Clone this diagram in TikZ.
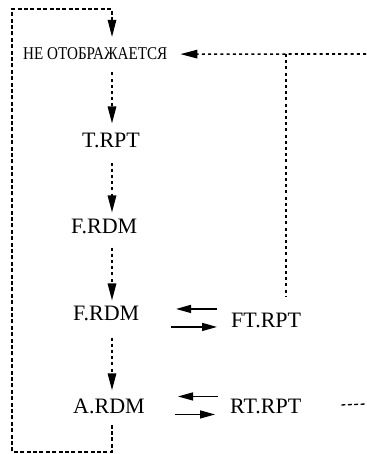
\documentclass[tikz,border=0pt]{standalone}
\usepackage{fontspec}
\setmainfont{Liberation Serif}
\usetikzlibrary{arrows.meta,calc}
\begin{document}
\begin{tikzpicture}[x=1pt,y=-1pt,
  lbl/.style={inner sep=0pt,font=\fontsize{22}{24}\selectfont,anchor=base west},
  loopdash/.style={line width=1.3pt,dash pattern=on 4pt off 2.4pt},
  dotln/.style={line width=1.6pt,dash pattern=on 3pt off 3.2pt},
  vhead/.style={-{Triangle[length=17pt,width=8.5pt]}},
  harrow/.style={line width=1.4pt,-{Triangle[length=15pt,width=8pt]}}]
\useasboundingbox (0,0) rectangle (366,454);
% nodes
\node[lbl,font=\fontsize{18}{20}\selectfont] (ne) at (23,60) {\resizebox{144pt}{\height}{НЕ ОТОБРАЖАЕТСЯ}};
\node[lbl] (trpt) at (82,148) {T.RPT};
\node[lbl] (frdma) at (71,233) {F.RDM};
\node[lbl] (frdmb) at (73,320) {F.RDM};
\node[lbl] (ardm) at (73,413) {A.RDM};
\node[lbl] (ftrpt) at (231,327) {FT.RPT};
\node[lbl] (rtrpt) at (230,413) {RT.RPT};
% helper coordinates
\coordinate (col) at (112,0);
\coordinate (bl) at (12,452);
\coordinate (tl) at (12,9);
\coordinate (rin) at (366,54);
\coordinate (junc) at (286,54);
\coordinate (rtout) at (366,404);
% vertical chain
\draw[dotln,vhead,shorten <=12pt,shorten >=10pt] (ne.south -| col) -- (trpt.north -| col);
\draw[dotln,vhead,shorten <=14pt,shorten >=6pt] (trpt.south -| col) -- (frdma.north -| col);
\draw[dotln,vhead,shorten <=14pt,shorten >=5pt] (frdma.south -| col) -- (frdmb.north -| col);
\draw[dotln,vhead,shorten <=17pt,shorten >=8pt] (frdmb.south -| col) -- (ardm.north -| col);
% outer loop
\draw[loopdash,vhead,shorten >=11pt] ($(ardm.south -| col)+(0,11)$) |- (bl) -- (tl) -| (ne.north -| col);
% right dotted feedback
\draw[dotln,vhead,shorten >=13pt] (rin) -- (ne.east);
\draw[dotln,shorten >=15pt] (junc) -- (ftrpt.north -| junc);
% horizontal pairs
\draw[harrow] ($(ftrpt.west)+(-14,-11)$) -- ($(ftrpt.west)+(-55,-11)$);
\draw[harrow] ($(frdmb.east |- ftrpt.west)+(31,7)$) -- ($(ftrpt.west)+(-14,7)$);
\draw[harrow] ($(rtrpt.west)+(-12,-9.5)$) -- ($(rtrpt.west)+(-52,-9.5)$);
\draw[harrow] ($(ardm.east |- rtrpt.west)+(30,8.5)$) -- ($(rtrpt.west)+(-15,8.5)$);
% dashes to the right of RT.RPT
\draw[loopdash] ($(rtrpt.east)+(40,-1)$) -- (rtout);
\end{tikzpicture}
\end{document}
